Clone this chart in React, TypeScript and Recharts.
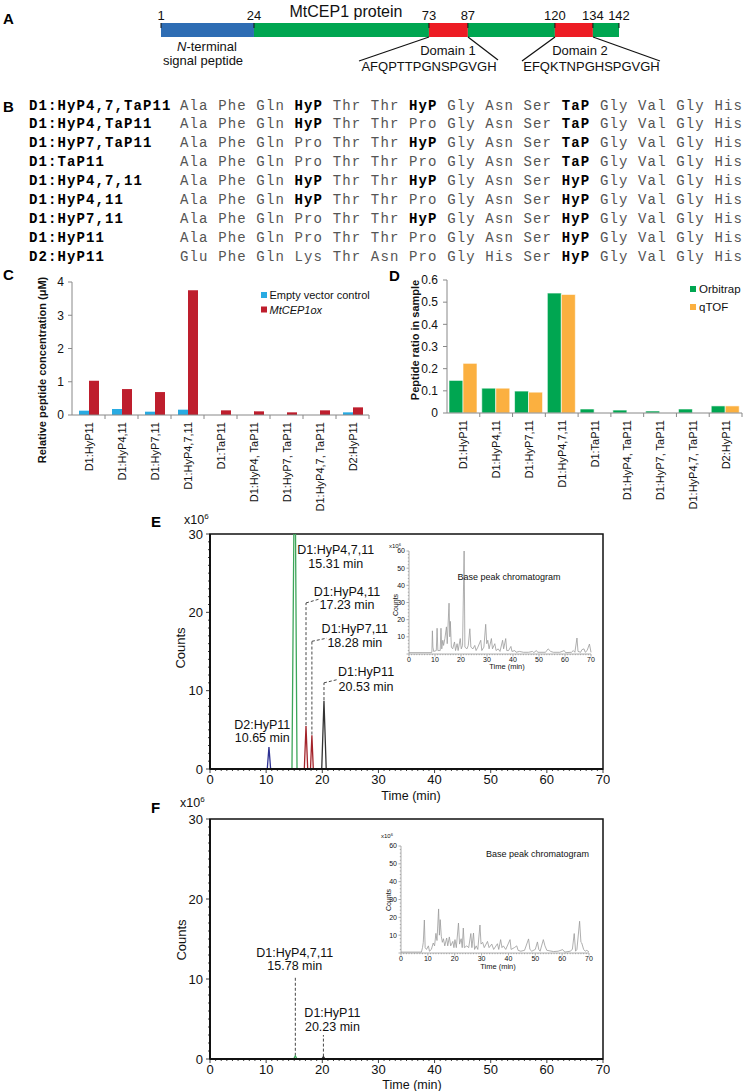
import React from "react";
import {
  Bar,
  BarChart,
  Line,
  LineChart,
  ReferenceArea,
  ReferenceDot,
  ReferenceLine,
  XAxis,
  YAxis,
} from "recharts";

const SANS = "'Liberation Sans', Arial, Helvetica, sans-serif";
const MONO = "'Liberation Mono', 'Courier New', monospace";

// ---------- A: protein schematic ----------
const RESIDUE_MARKS = [1, 24, 73, 87, 120, 134, 142];
const SEGMENT_COLORS = ["#2e6db4", "#00a651", "#ed1c24", "#00a651", "#ed1c24", "#00a651"];
// the schematic is not drawn to scale: where each mark sits along the bar (0..1)
const SCHEMATIC_FRAC = [0, 0.203, 0.585, 0.67, 0.86, 0.943, 1];

// ---------- B: peptide table ----------
const PEPTIDE_ROWS = [
  "D1:HyP4,7,TaP11",
  "D1:HyP4,TaP11",
  "D1:HyP7,TaP11",
  "D1:TaP11",
  "D1:HyP4,7,11",
  "D1:HyP4,11",
  "D1:HyP7,11",
  "D1:HyP11",
  "D2:HyP11",
];
const PEPTIDE_SEQS = [
  "Ala Phe Gln HyP Thr Thr HyP Gly Asn Ser TaP Gly Val Gly His",
  "Ala Phe Gln HyP Thr Thr Pro Gly Asn Ser TaP Gly Val Gly His",
  "Ala Phe Gln Pro Thr Thr HyP Gly Asn Ser TaP Gly Val Gly His",
  "Ala Phe Gln Pro Thr Thr Pro Gly Asn Ser TaP Gly Val Gly His",
  "Ala Phe Gln HyP Thr Thr HyP Gly Asn Ser HyP Gly Val Gly His",
  "Ala Phe Gln HyP Thr Thr Pro Gly Asn Ser HyP Gly Val Gly His",
  "Ala Phe Gln Pro Thr Thr HyP Gly Asn Ser HyP Gly Val Gly His",
  "Ala Phe Gln Pro Thr Thr Pro Gly Asn Ser HyP Gly Val Gly His",
  "Glu Phe Gln Lys Thr Asn Pro Gly His Ser HyP Gly Val Gly His",
];

// ---------- C / D: bar charts ----------
const PEPTIDES = [
  "D1:HyP11",
  "D1:HyP4,11",
  "D1:HyP7,11",
  "D1:HyP4,7,11",
  "D1:TaP11",
  "D1:HyP4, TaP11",
  "D1:HyP7, TaP11",
  "D1:HyP4,7, TaP11",
  "D2:HyP11",
];
const EMPTY_VECTOR = [0.13, 0.18, 0.1, 0.16, 0, 0, 0, 0, 0.08];
const MTCEP1OX = [1.03, 0.78, 0.69, 3.75, 0.14, 0.11, 0.08, 0.14, 0.23];
const ORBITRAP = [0.147, 0.112, 0.099, 0.541, 0.018, 0.013, 0.009, 0.018, 0.032];
const QTOF = [0.224, 0.112, 0.094, 0.535, 0, 0, 0, 0, 0.032];
const C_TICKS = [0, 1, 2, 3, 4];
const D_TICKS = [0, 0.1, 0.2, 0.3, 0.4, 0.5, 0.6];

// ---------- E / F: extracted ion chromatograms (time min, counts x10^6) ----------
const E_D2_HYP11 = [[10.2, 0], [10.5, 2.8], [10.8, 0]];
const E_HYP4_7_11 = [[14.6, 0], [15.1, 45], [15.5, 0]];
const E_HYP4_11 = [[16.8, 0], [17.1, 5.5], [17.4, 0]];
const E_HYP7_11 = [[17.9, 0], [18.15, 4.3], [18.4, 0]];
const E_HYP11 = [[19.9, 0], [20.3, 8.7], [20.7, 0]];
const F_HYP4_7_11 = [[14.9, 0], [15.2, 0.4], [15.5, 0]];
const F_HYP11 = [[19.9, 0], [20.2, 0.3], [20.5, 0]];

const E_BPC = [
  [0, 0.8], [8.5, 0.8], [8.8, 1], [9.0, 13.5], [9.2, 4], [9.5, 1.5], [10.5, 2], [10.8, 15], [11.1, 2],
  [12.0, 2], [12.3, 15], [12.6, 3], [13.0, 8], [13.3, 5], [13.8, 9], [14.4, 15.8], [14.7, 6], [15.4, 29.6],
  [15.7, 10], [15.9, 19], [16.3, 4], [16.8, 3], [17.5, 7], [17.9, 2], [18.5, 6], [18.9, 2], [19.7, 9],
  [20.1, 3], [20.6, 5], [21.2, 60], [21.5, 4], [22.3, 3], [22.8, 5], [23.4, 14.7], [23.8, 4], [24.6, 3],
  [25.3, 5], [25.8, 2], [26.5, 4], [27.6, 8], [28.0, 2], [28.8, 4], [29.5, 17.3], [29.9, 6], [30.3, 8],
  [30.8, 3], [31.7, 9], [32.1, 3], [33.0, 6], [33.5, 2], [34.3, 3], [35.0, 1.5], [36.0, 8], [36.4, 3],
  [37.2, 9], [37.6, 2], [38.3, 2], [39.2, 4.4], [39.6, 1.5], [40.7, 2], [41.2, 1], [42.5, 1.5], [44, 1],
  [46, 1], [47.5, 1.5], [48, 0.8], [49, 2], [49.5, 1], [52.5, 1], [53.5, 3], [54.5, 1.5], [55.5, 1],
  [58, 1], [59.7, 2], [60.2, 0.8], [62.5, 1], [63.2, 2], [63.8, 1], [64.6, 9.3], [65.0, 1.5], [66, 1],
  [66.5, 2.5], [67.3, 3], [67.8, 1], [68.5, 2], [69.4, 5.8], [70, 1],
];
const F_BPC = [
  [0, 0.5], [7.6, 0.5], [8.0, 3], [8.3, 6], [8.7, 18.5], [9.0, 3], [9.5, 2], [10.2, 4], [10.6, 1],
  [11.3, 2], [12.0, 5.6], [12.5, 4], [13.0, 11], [13.4, 7], [14.0, 24.7], [14.3, 10], [14.6, 18.7],
  [15.0, 9.4], [15.4, 6], [15.8, 8], [16.3, 4], [17.0, 8.4], [17.4, 4], [18.0, 9], [18.5, 4], [19.3, 6.5],
  [19.7, 3], [20.1, 7.5], [20.6, 3], [21.4, 16.8], [21.8, 5], [22.4, 8], [22.8, 3], [23.2, 14], [23.6, 3],
  [24.5, 4], [25.2, 3], [26.0, 10.9], [26.4, 3], [27.0, 11.2], [27.4, 2], [28.0, 4], [28.6, 2],
  [29.4, 15.7], [29.8, 5], [30.4, 6], [31, 3], [32.2, 6.5], [32.8, 3], [33.8, 5], [34.5, 2], [35.9, 5.2],
  [36.4, 2], [37.1, 7.5], [37.6, 3], [38.1, 4], [39, 2], [40.6, 7.5], [41, 2], [42.2, 3], [43.1, 4],
  [43.6, 1.5], [44.6, 1], [46, 1.5], [47.5, 7.9], [48, 2], [48.7, 1], [50, 2], [50.8, 6.2], [51.3, 2],
  [51.8, 1], [53, 7.5], [53.6, 4], [54.3, 1.5], [56.8, 0.8], [58.5, 1], [60.2, 1.9], [61, 0.5], [63, 1],
  [63.8, 2], [64.5, 10.9], [65.0, 1], [65.5, 2], [66.5, 17.8], [67.0, 6], [67.3, 5.6], [68, 2], [68.6, 1],
  [69.2, 1.5], [70, 0.5],
];

// annotations: text, time, counts
const E_NOTES: [string, number, number][] = [
  ["D1:HyP4,7,11", 22.4, 27.95],
  ["15.31 min", 22.4, 26.25],
  ["D1:HyP4,11", 24.4, 22.7],
  ["17.23 min", 24.4, 20.95],
  ["D1:HyP7,11", 25.8, 17.95],
  ["18.28 min", 25.8, 16.1],
  ["D1:HyP11", 27.8, 12.4],
  ["20.53 min", 27.8, 10.55],
  ["D2:HyP11", 9.3, 5.65],
  ["10.65 min", 9.3, 3.95],
];
const E_LEADERS = [
  [[17.1, 5.6], [17.1, 21.2], [19.5, 21.7]],
  [[18.15, 4.4], [18.15, 16.3], [20.8, 16.7]],
  [[20.3, 8.8], [20.3, 11.0], [22.6, 11.4]],
];
const F_NOTES: [string, number, number][] = [
  ["D1:HyP4,7,11", 15.1, 13.3],
  ["15.78 min", 15.1, 11.7],
  ["D1:HyP11", 21.8, 5.8],
  ["20.23 min", 21.8, 4.0],
];
const F_LEADERS = [
  [[15.2, 0.4], [15.2, 10.4]],
  [[20.2, 0.3], [20.2, 3.0]],
];

const BLUE = "#29abe2";
const RED = "#be1e2d";
const GREEN = "#00a651";
const ORANGE = "#fbb040";

const pts = (arr: number[][]) => arr.map(([t, v]) => ({ t, v }));
const steps = (max: number, step: number) =>
  Array.from({ length: Math.round(max / step) + 1 }, (_, i) => i * step);

function schematicScale(knots: number[], fracs: number[]): any {
  let dom: number[] = [knots[0], knots[knots.length - 1]];
  let rng: number[] = [0, 1];
  const s: any = (v: number) => {
    let i = 0;
    while (i < knots.length - 2 && v > knots[i + 1]) i += 1;
    const f = fracs[i] + ((v - knots[i]) / (knots[i + 1] - knots[i])) * (fracs[i + 1] - fracs[i]);
    return rng[0] + (rng[1] - rng[0]) * f;
  };
  s.domain = (d?: number[]) => {
    if (d === undefined) return dom;
    dom = d;
    return s;
  };
  s.range = (r?: number[]) => {
    if (r === undefined) return rng;
    rng = r;
    return s;
  };
  s.copy = () => schematicScale(knots, fracs).domain(dom).range(rng);
  s.ticks = () => knots.slice();
  s.tickFormat = () => (v: number) => String(v);
  return s;
}

const RESIDUE_KNOTS = RESIDUE_MARKS.map((r) => r - 1);
const residueScale = schematicScale(RESIDUE_KNOTS, SCHEMATIC_FRAC);
const proteinRow = [
  RESIDUE_MARKS.slice(1).reduce(
    (row: any, r, i) => ({ ...row, [`s${i}`]: r - RESIDUE_MARKS[i] }),
    { name: "MtCEP1" },
  ),
];

const cData = PEPTIDES.map((name, i) => ({ name, ev: EMPTY_VECTOR[i], ox: MTCEP1OX[i] }));
const dData = PEPTIDES.map((name, i) => ({ name, orbi: ORBITRAP[i], qtof: QTOF[i] }));

function ResidueTick(props: any) {
  const { x, y, payload } = props;
  return (
    <g>
      <line x1={x} x2={x} y1={y} y2={y + 5} stroke="#111" strokeWidth={1} />
      <text x={x} y={y - 3} textAnchor="middle" fontSize={13} fill="#111">
        {payload.value + 1}
      </text>
    </g>
  );
}

function CategoryTick(props: any) {
  const { x, y, payload } = props;
  const half = payload.offset || 16.5;
  return (
    <g>
      <line x1={x + half} x2={x + half} y1={y} y2={y + 4} stroke="#888" />
      <text
        transform={`translate(${x + 4},${y + 7}) rotate(-90)`}
        textAnchor="end"
        fontSize={11}
        fill="#111"
      >
        {payload.value}
      </text>
    </g>
  );
}

type AxisStyle = {
  color: string;
  major: number;
  majorLen: number;
  minorLen: number;
  fontSize: number;
  gap: number;
  skipZero?: boolean;
};

const MAIN_X: AxisStyle = { color: "#111", major: 10, majorLen: 4, minorLen: 2, fontSize: 13, gap: 15 };
const MAIN_Y: AxisStyle = { color: "#111", major: 10, majorLen: 4, minorLen: 2, fontSize: 13, gap: 7 };
const INSET_X: AxisStyle = { color: "#999", major: 10, majorLen: 2.5, minorLen: 1.2, fontSize: 7, gap: 8 };
const INSET_Y: AxisStyle = { color: "#999", major: 10, majorLen: 2.5, minorLen: 1.2, fontSize: 7, gap: 4, skipZero: true };

const xTick = (st: AxisStyle) => (props: any) => {
  const { x, y, payload } = props;
  const v = Number(payload.value);
  const major = v % st.major === 0;
  return (
    <g>
      <line x1={x} x2={x} y1={y} y2={y + (major ? st.majorLen : st.minorLen)} stroke={st.color} strokeWidth={0.8} />
      {major && (
        <text x={x} y={y + st.gap} textAnchor="middle" fontSize={st.fontSize} fill="#111">
          {v}
        </text>
      )}
    </g>
  );
};

const yTick = (st: AxisStyle) => (props: any) => {
  const { x, y, payload } = props;
  const v = Number(payload.value);
  const major = v % st.major === 0;
  return (
    <g>
      <line x1={x} x2={x - (major ? st.majorLen : st.minorLen)} y1={y} y2={y} stroke={st.color} strokeWidth={0.8} />
      {major && !(st.skipZero && v === 0) && (
        <text x={x - st.gap} y={y} dy="0.35em" textAnchor="end" fontSize={st.fontSize} fill="#111">
          {v}
        </text>
      )}
    </g>
  );
};

const X_MIN_TICKS = steps(70, 1);
const MAIN_Y_TICKS = steps(30, 1);
const INSET_Y_TICKS = steps(60, 2);

function Chromatogram({
  traces,
  notes,
  leaders,
  width,
  height,
  margin,
  xHeight,
}: {
  traces: { data: number[][]; color: string }[];
  notes: [string, number, number][];
  leaders: number[][][];
  width: number;
  height: number;
  margin: { top: number; right: number; bottom: number; left: number };
  xHeight: number;
}) {
  return (
    <LineChart width={width} height={height} margin={margin}>
      <XAxis
        type="number"
        dataKey="t"
        domain={[0, 70]}
        ticks={X_MIN_TICKS}
        interval={0}
        height={xHeight}
        tickSize={0}
        tickMargin={0}
        tickLine={false}
        axisLine={{ stroke: "#111", strokeWidth: 2 }}
        tick={xTick(MAIN_X)}
        allowDataOverflow
      />
      <YAxis
        type="number"
        domain={[0, 30]}
        ticks={MAIN_Y_TICKS}
        interval={0}
        width={30}
        tickSize={0}
        tickMargin={0}
        tickLine={false}
        axisLine={{ stroke: "#111", strokeWidth: 2 }}
        tick={yTick(MAIN_Y)}
        allowDataOverflow
      />
      <ReferenceArea x1={0} x2={70} y1={0} y2={30} fill="none" fillOpacity={0} stroke="#111" strokeWidth={1.5} ifOverflow="visible" />
      {leaders.map((poly, i) =>
        poly.slice(1).map((p, j) => (
          <ReferenceLine
            key={`${i}-${j}`}
            segment={[
              { x: poly[j][0], y: poly[j][1] },
              { x: p[0], y: p[1] },
            ]}
            stroke="#333"
            strokeWidth={0.9}
            strokeDasharray="3 2"
          />
        )),
      )}
      {traces.map((tr, i) => (
        <Line
          key={i}
          data={pts(tr.data)}
          dataKey="v"
          type="linear"
          stroke={tr.color}
          strokeWidth={1.3}
          dot={false}
          isAnimationActive={false}
        />
      ))}
      {notes.map(([txt, x, y]) => (
        <ReferenceDot
          key={txt}
          x={x}
          y={y}
          r={0}
          fill="none"
          stroke="none"
          ifOverflow="visible"
          label={{ value: txt, position: "center", fontSize: 12.5, fill: "#111" }}
        />
      ))}
    </LineChart>
  );
}

function Inset({
  data,
  width,
  height,
  margin,
}: {
  data: number[][];
  width: number;
  height: number;
  margin: { top: number; right: number; bottom: number; left: number };
}) {
  return (
    <LineChart width={width} height={height} margin={margin}>
      <XAxis
        type="number"
        dataKey="t"
        domain={[0, 70]}
        ticks={X_MIN_TICKS}
        interval={0}
        height={14}
        tickSize={0}
        tickMargin={0}
        tickLine={false}
        axisLine={{ stroke: "#999", strokeWidth: 0.8 }}
        tick={xTick(INSET_X)}
      />
      <YAxis
        type="number"
        domain={[0, 60]}
        ticks={INSET_Y_TICKS}
        interval={0}
        width={14}
        tickSize={0}
        tickMargin={0}
        tickLine={false}
        axisLine={{ stroke: "#999", strokeWidth: 0.8 }}
        tick={yTick(INSET_Y)}
      />
      <Line
        data={pts(data)}
        dataKey="v"
        type="linear"
        stroke="#9a9a9a"
        strokeWidth={0.8}
        dot={false}
        isAnimationActive={false}
      />
    </LineChart>
  );
}

const abs = (left: number, top: number): React.CSSProperties => ({ position: "absolute", left, top });

function Overlay() {
  const panel = { fontWeight: 700, fontSize: 15, fill: "#000" } as const;
  return (
    <svg width={750} height={1091} style={{ position: "absolute", left: 0, top: 0, pointerEvents: "none" }}>
      <g fontFamily={SANS} fill="#111">
        <text x={3} y={24} {...panel}>A</text>
        <text x={3} y={111.5} {...panel}>B</text>
        <text x={3} y={280} {...panel}>C</text>
        <text x={389} y={281} {...panel}>D</text>
        <text x={151} y={527} {...panel}>E</text>
        <text x={151} y={813} {...panel}>F</text>

        <text x={346} y={16.5} fontSize={16} textAnchor="middle">MtCEP1 protein</text>
        <text x={207} y={51} fontSize={13} textAnchor="middle">
          <tspan fontStyle="italic">N</tspan>-terminal
        </text>
        <text x={203} y={64.5} fontSize={13} textAnchor="middle">signal peptide</text>
        <text x={448} y={54.5} fontSize={13} textAnchor="middle">Domain 1</text>
        <text x={429} y={71} fontSize={13} textAnchor="middle">AFQPTTPGNSPGVGH</text>
        <text x={580} y={54.5} fontSize={13} textAnchor="middle">Domain 2</text>
        <text x={591.5} y={71} fontSize={13} textAnchor="middle">EFQKTNPGHSPGVGH</text>
        <g stroke="#111" strokeWidth={1.2}>
          <line x1={429} y1={37} x2={359} y2={61} />
          <line x1={468} y1={37} x2={498} y2={60} />
          <line x1={555} y1={37} x2={522} y2={61} />
          <line x1={593} y1={37} x2={660} y2={61} />
        </g>

        <text transform="translate(46,370) rotate(-90)" fontSize={11} fontWeight={700} textAnchor="middle">
          Relative peptide concentration (μM)
        </text>
        <rect x={261} y={292} width={6} height={6} fill={BLUE} />
        <text x={269.5} y={299} fontSize={11}>Empty vector control</text>
        <rect x={261} y={306.5} width={6} height={6} fill={RED} />
        <text x={269.5} y={313.5} fontSize={11} fontStyle="italic">MtCEP1ox</text>

        <text transform="translate(419,340) rotate(-90)" fontSize={11} fontWeight={700} textAnchor="middle">
          Peptide ratio in sample
        </text>
        <rect x={690} y={286} width={6} height={6} fill={GREEN} />
        <text x={699} y={293} fontSize={11.5}>Orbitrap</text>
        <rect x={690} y={304} width={6} height={6} fill={ORANGE} />
        <text x={699} y={311} fontSize={11.5}>qTOF</text>

        <text x={184} y={523.5} fontSize={12.5}>
          x10<tspan fontSize={8} dy={-5}>6</tspan>
        </text>
        <text transform="translate(184.5,648) rotate(-90)" fontSize={13} textAnchor="middle">Counts</text>
        <text x={411} y={800} fontSize={12.5} textAnchor="middle">Time (min)</text>
        <text x={389} y={548} fontSize={6}>
          x10<tspan fontSize={4} dy={-2}>6</tspan>
        </text>
        <text transform="translate(398,605) rotate(-90)" fontSize={7} textAnchor="middle">Counts</text>
        <text x={507} y={669} fontSize={7.5} textAnchor="middle">Time (min)</text>
        <text x={509} y={580} fontSize={9} textAnchor="middle">Base peak chromatogram</text>

        <text x={180} y={806.5} fontSize={12.5}>
          x10<tspan fontSize={8} dy={-5}>6</tspan>
        </text>
        <text transform="translate(186,940) rotate(-90)" fontSize={13} textAnchor="middle">Counts</text>
        <text x={412} y={1089} fontSize={12.5} textAnchor="middle">Time (min)</text>
        <text x={381} y={838} fontSize={6}>
          x10<tspan fontSize={4} dy={-2}>6</tspan>
        </text>
        <text transform="translate(390.5,900) rotate(-90)" fontSize={7} textAnchor="middle">Counts</text>
        <text x={498} y={968.5} fontSize={7.5} textAnchor="middle">Time (min)</text>
        <text x={537.5} y={857} fontSize={9} textAnchor="middle">Base peak chromatogram</text>
      </g>
    </svg>
  );
}

export default function App() {
  return (
    <div style={{ position: "absolute", left: 0, top: 0, width: 750, height: 1091, background: "#fff", fontFamily: SANS }}>
      {/* A */}
      <div style={abs(0, 0)}>
        <BarChart
          width={750}
          height={80}
          layout="vertical"
          data={proteinRow}
          margin={{ top: 18, right: 131, bottom: 43, left: 161 }}
          barCategoryGap={0}
        >
          <XAxis
            type="number"
            orientation="top"
            height={5}
            domain={[0, 141]}
            scale={residueScale}
            ticks={RESIDUE_KNOTS}
            interval={0}
            tickSize={0}
            tickMargin={0}
            axisLine={false}
            tickLine={false}
            tick={ResidueTick}
          />
          <YAxis type="category" dataKey="name" hide />
          {SEGMENT_COLORS.map((c, i) => (
            <Bar key={i} dataKey={`s${i}`} stackId="p" fill={c} isAnimationActive={false} />
          ))}
        </BarChart>
      </div>

      {/* B */}
      {PEPTIDE_ROWS.map((lab, i) => (
        <React.Fragment key={lab}>
          <div
            style={{
              ...abs(29, 96.5 + i * 18.9),
              fontFamily: MONO,
              fontSize: 14,
              letterSpacing: 1.1,
              lineHeight: "19px",
              whiteSpace: "pre",
              fontWeight: 700,
              color: "#000",
            }}
          >
            {lab}
          </div>
          <div
            style={{
              ...abs(180, 96.5 + i * 18.9),
              fontFamily: MONO,
              fontSize: 14,
              letterSpacing: 1.14,
              lineHeight: "19px",
              whiteSpace: "pre",
              color: "#555",
            }}
          >
            {PEPTIDE_SEQS[i].split(" ").map((tok, j) => (
              <span key={j} style={tok === "HyP" || tok === "TaP" ? { fontWeight: 700, color: "#000" } : undefined}>
                {(j ? " " : "") + tok}
              </span>
            ))}
          </div>
        </React.Fragment>
      ))}

      {/* C */}
      <div style={abs(0, 262)}>
        <BarChart
          width={380}
          height={280}
          data={cData}
          margin={{ top: 20, right: 11, bottom: 17, left: 42 }}
          barCategoryGap={7}
          barGap={0}
        >
          <XAxis
            dataKey="name"
            interval={0}
            height={110}
            tickSize={0}
            tickMargin={0}
            tickLine={false}
            axisLine={{ stroke: "#888" }}
            tick={CategoryTick}
          />
          <YAxis
            width={30}
            domain={[0, 4]}
            ticks={C_TICKS}
            interval={0}
            tickSize={4}
            tickMargin={4}
            axisLine={{ stroke: "#888" }}
            tickLine={{ stroke: "#888" }}
            tick={{ fontSize: 12, fill: "#111" }}
          />
          <Bar dataKey="ev" fill={BLUE} isAnimationActive={false} />
          <Bar dataKey="ox" fill={RED} isAnimationActive={false} />
        </BarChart>
      </div>

      {/* D */}
      <div style={abs(370, 262)}>
        <BarChart
          width={380}
          height={280}
          data={dData}
          margin={{ top: 18, right: 8, bottom: 19, left: 47 }}
          barCategoryGap={2}
          barGap={0}
        >
          <XAxis
            dataKey="name"
            interval={0}
            height={110}
            tickSize={0}
            tickMargin={0}
            tickLine={false}
            axisLine={{ stroke: "#888" }}
            tick={CategoryTick}
          />
          <YAxis
            width={30}
            domain={[0, 0.6]}
            ticks={D_TICKS}
            interval={0}
            tickSize={4}
            tickMargin={5}
            axisLine={{ stroke: "#888" }}
            tickLine={{ stroke: "#888" }}
            tick={{ fontSize: 12, fill: "#111" }}
            tickFormatter={(v: number) => (v === 0 ? "0" : v.toFixed(1))}
          />
          <Bar dataKey="orbi" fill={GREEN} stroke="#ffffff" strokeOpacity={0.6} isAnimationActive={false} />
          <Bar dataKey="qtof" fill={ORANGE} stroke="#ffffff" strokeOpacity={0.6} isAnimationActive={false} />
        </BarChart>
      </div>

      {/* E */}
      <div style={abs(150, 515)}>
        <Chromatogram
          width={460}
          height={290}
          margin={{ top: 19, right: 7, bottom: 6, left: 30 }}
          xHeight={30}
          traces={[
            { data: E_D2_HYP11, color: "#2e3192" },
            { data: E_HYP4_7_11, color: "#3da65a" },
            { data: E_HYP4_11, color: "#a3232a" },
            { data: E_HYP7_11, color: "#a3232a" },
            { data: E_HYP11, color: "#333333" },
          ]}
          notes={E_NOTES}
          leaders={E_LEADERS}
        />
      </div>
      <div style={abs(380, 540)}>
        <Inset data={E_BPC} width={220} height={135} margin={{ top: 11, right: 9, bottom: 7, left: 15 }} />
      </div>

      {/* F */}
      <div style={abs(150, 800)}>
        <Chromatogram
          width={460}
          height={290}
          margin={{ top: 19, right: 7, bottom: 5, left: 30 }}
          xHeight={26}
          traces={[
            { data: F_HYP4_7_11, color: "#3da65a" },
            { data: F_HYP11, color: "#333333" },
          ]}
          notes={F_NOTES}
          leaders={F_LEADERS}
        />
      </div>
      <div style={abs(372, 835)}>
        <Inset data={F_BPC} width={225} height={135} margin={{ top: 11, right: 8, bottom: 3, left: 15 }} />
      </div>

      <Overlay />
    </div>
  );
}
